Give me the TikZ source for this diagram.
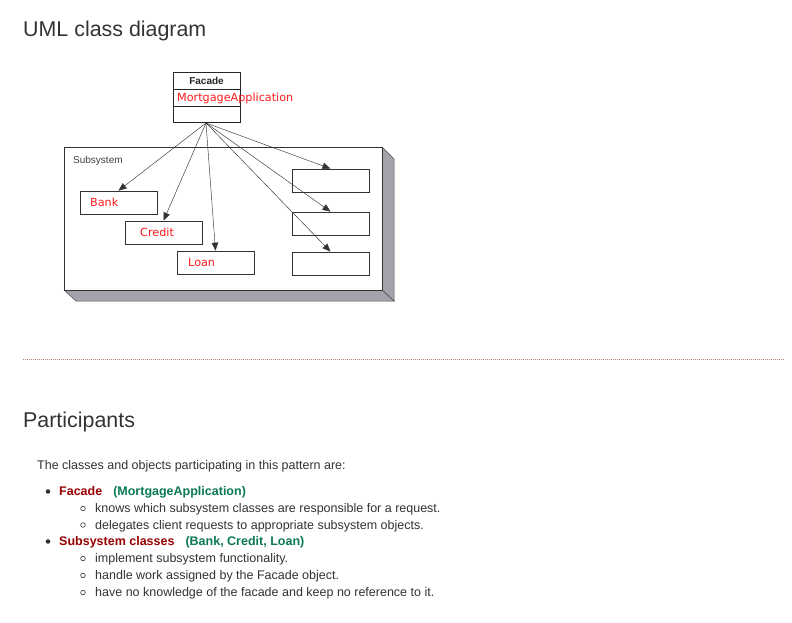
\documentclass[tikz,border=0pt]{standalone}
\usepackage{fontspec}
\setmainfont{Liberation Sans}
\newfontfamily\dejavu{DejaVu Sans}
\usetikzlibrary{arrows.meta}
\definecolor{txt}{HTML}{333333}
\definecolor{dred}{HTML}{990000}
\definecolor{dgreen}{HTML}{0A7A50}
\definecolor{umlred}{HTML}{FF1A1A}
\definecolor{sidegray}{HTML}{A3A3AB}
\definecolor{sep}{HTML}{B08070}
\tikzset{
  cls/.style={draw=black!80, line width=0.7pt, minimum width=77pt, minimum height=23pt, inner sep=0pt},
  lbl/.style={text=umlred, font=\dejavu\fontsize{11.2}{13}\selectfont, anchor=base west, inner sep=0pt},
  conn/.style={draw=black!80, line width=0.45pt, -{Triangle[length=8pt,width=6.5pt]}},
  body/.style={text=txt, font=\fontsize{12.5}{15}\selectfont, anchor=base west, inner sep=0pt},
  bbody/.style={body, font=\bfseries\fontsize{12.5}{15}\selectfont},
  head/.style={text=txt, font=\fontsize{21.4}{25}\selectfont, anchor=base west, inner sep=0pt},
  dot/.style={circle, fill=txt, inner sep=0pt, minimum size=4.6pt},
  odot/.style={circle, draw=txt, line width=0.6pt, inner sep=0pt, minimum size=4.6pt},
}
\begin{document}
\begin{tikzpicture}[x=1pt,y=-1pt]
\useasboundingbox[fill=white] (0,0) rectangle (792,623);
% title
\node[head] (title) at (23,37) {UML class diagram};
% subsystem 3D box
\fill[sidegray, draw=black!70, line width=0.5pt] (382,147) -- (394,159) -- (394,301) -- (382,290) -- cycle;
\fill[sidegray, draw=black!70, line width=0.5pt] (64,290) -- (382,290) -- (394,301) -- (76,301) -- cycle;
\node[draw=black!80, fill=white, line width=0.7pt, minimum width=318pt, minimum height=143pt, inner sep=0pt] (sub) at (223,218.5) {};
\node[text=black!75, font=\fontsize{10}{12}\selectfont, anchor=base west, inner sep=0pt] (sublbl) at (73,163.5) {Subsystem};
% facade
\node[draw=black!85, line width=0.7pt, fill=white, minimum width=67pt, minimum height=50pt, inner sep=0pt] (fac) at (206.5,97) {};
\draw[black!85, line width=0.7pt] (173,89) -- (240,89) (173,106) -- (240,106);
\node[font=\bfseries\fontsize{10}{12}\selectfont, text=black!85, inner sep=0pt, anchor=base] (facname) at (206.5,84.5) {Facade};
\node[lbl] (mort) at (177,102) {MortgageApplication};
% classes
\node[cls] (bank) at (118.5,202.5) {};
\node[lbl] (banklbl) at (90,206) {Bank};
\node[cls] (credit) at (163.5,232.5) {};
\node[lbl] (creditlbl) at (140,236) {Credit};
\node[cls] (loan) at (215.5,262.5) {};
\node[lbl] (loanlbl) at (188,266) {Loan};
\node[cls] (r1) at (330.5,180.5) {};
\node[cls] (r2) at (330.5,223.5) {};
\node[cls] (r3) at (330.5,263.5) {};
% connectors
\coordinate (src) at (206,123);
\draw[conn] (src) -- (bank.north);
\draw[conn] (src) -- (credit.north);
\draw[conn] (src) -- (loan.north);
\draw[conn] (src) -- (r1.north);
\draw[conn] (src) -- (r2.north);
\draw[conn] (src) -- (r3.north);
% separator
\draw[sep, line width=1pt, dash pattern=on 1pt off 1pt] (23,359) -- (785,359);
% participants
\node[head] (part) at (23,427) {Participants};
\node[body] (intro) at (37,469.5) {The classes and objects participating in this pattern are:};
\node[dot] (b1) at (48,491.5) {};
\node[bbody] (f1) at (59,495.5) {\textcolor{dred}{Facade}\hspace{11pt}\textcolor{dgreen}{(MortgageApplication)}};
\node[odot] (c1) at (83,508.5) {};
\node[body] (t1) at (95,512.5) {knows which subsystem classes are responsible for a request.};
\node[odot] (c2) at (83,525) {};
\node[body] (t2) at (95,529) {delegates client requests to appropriate subsystem objects.};
\node[dot] (b2) at (48,541.5) {};
\node[bbody] (f2) at (59,545.5) {\textcolor{dred}{Subsystem classes}\hspace{11pt}\textcolor{dgreen}{(Bank, Credit, Loan)}};
\node[odot] (c3) at (83,558.5) {};
\node[body] (t3) at (95,562.5) {implement subsystem functionality.};
\node[odot] (c4) at (83,575.5) {};
\node[body] (t4) at (95,579.5) {handle work assigned by the Facade object.};
\node[odot] (c5) at (83,592.5) {};
\node[body] (t5) at (95,596.5) {have no knowledge of the facade and keep no reference to it.};
\end{tikzpicture}
\end{document}
